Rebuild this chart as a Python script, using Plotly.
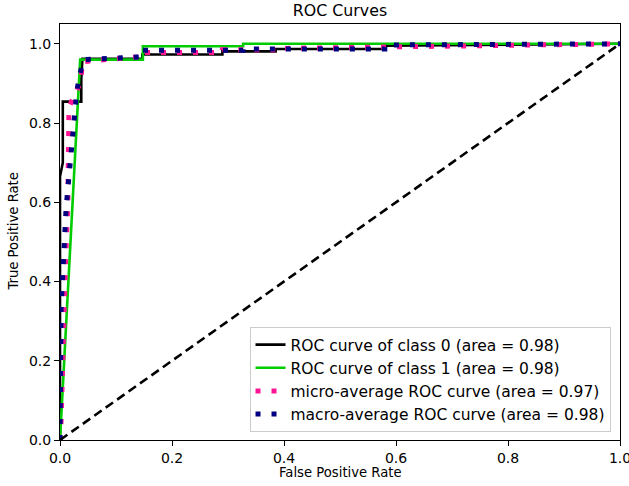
import plotly.graph_objects as go

# ROC curve data
fpr_class0 = [0.0, 0.0, 0.005, 0.005, 0.038, 0.038, 0.040, 0.147, 0.147, 0.290, 0.290, 0.385, 0.385, 0.580, 0.580, 1.0]
tpr_class0 = [0.0, 0.665, 0.700, 0.854, 0.854, 0.910, 0.962, 0.962, 0.973, 0.973, 0.981, 0.981, 0.987, 0.987, 0.995, 1.0]

fpr_class1 = [0.0, 0.036, 0.148, 0.148, 0.327, 0.327, 1.0]
tpr_class1 = [0.0, 0.960, 0.960, 0.994, 0.994, 1.0, 1.0]

fpr_micro = [0.0, 0.002, 0.010, 0.014, 0.016, 0.037, 0.040, 0.148, 0.148, 0.290, 0.290, 0.385, 0.385, 0.580, 1.0]
tpr_micro = [0.0, 0.050, 0.450, 0.600, 0.840, 0.904, 0.955, 0.968, 0.978, 0.978, 0.985, 0.985, 0.988, 0.992, 1.0]

fpr_macro = [0.0, 0.0, 0.002, 0.011, 0.026, 0.030, 0.035, 0.042, 0.148, 0.148, 0.327, 0.327, 0.580, 0.580, 1.0]
tpr_macro = [0.0, 0.300, 0.336, 0.588, 0.838, 0.880, 0.920, 0.960, 0.967, 0.984, 0.984, 0.987, 0.987, 0.997, 1.0]

names = [
    "ROC curve of class 0 (area = 0.98)",
    "ROC curve of class 1 (area = 0.98)",
    "micro-average ROC curve (area = 0.97)",
    "macro-average ROC curve (area = 0.98)",
]
diag_x = [0.0, 1.0]
diag_y = [0.0, 1.0]
x_ticks = [0.0, 0.2, 0.4, 0.6, 0.8, 1.0]
y_ticks = [0.0, 0.2, 0.4, 0.6, 0.8, 1.0]

FONT = "DejaVu Sans"
W, H = 629, 486
L, R, T, B = 59.5, 8.5, 24, 46

fig = go.Figure()
fig.add_trace(go.Scatter(x=fpr_class0, y=tpr_class0, mode="lines", name=names[0],
                         line=dict(color="black", width=2.6)))
fig.add_trace(go.Scatter(x=fpr_class1, y=tpr_class1, mode="lines", name=names[1],
                         line=dict(color="#00cc00", width=2.6)))
fig.add_trace(go.Scatter(x=fpr_micro, y=tpr_micro, mode="lines", name=names[2],
                         line=dict(color="deeppink", width=5, dash="5px,11px")))
fig.add_trace(go.Scatter(x=fpr_macro, y=tpr_macro, mode="lines", name=names[3],
                         line=dict(color="navy", width=5, dash="5px,11px")))
fig.add_trace(go.Scatter(x=diag_x, y=diag_y, mode="lines", showlegend=False,
                         line=dict(color="black", width=2.6, dash="9px,5px")))

pw = W - L - R
ph = H - T - B

fig.update_layout(
    width=W, height=H,
    margin=dict(l=L, r=R, t=T, b=B, pad=0, autoexpand=False),
    paper_bgcolor="white", plot_bgcolor="white",
    font=dict(family=FONT, size=14, color="black"),
    title=dict(text="ROC Curves", x=(L + W - R) / 2 / W, xanchor="center",
               yref="container", y=1 - 10 / H, yanchor="middle",
               font=dict(family=FONT, size=15.8, color="black")),
    showlegend=True,
    legend=dict(x=(611 - L) / pw, y=(T + ph - 432) / ph, xanchor="right", yanchor="bottom",
                bgcolor="rgba(255,255,255,0.85)", bordercolor="#cccccc", borderwidth=1,
                font=dict(family=FONT, size=15.5), itemwidth=30, tracegroupgap=0),
    annotations=[
        dict(text="False Positive Rate", xref="paper", yref="paper",
             x=0.5, y=-(472 - (T + ph)) / ph, xanchor="center", yanchor="middle",
             showarrow=False, font=dict(family=FONT, size=13.2)),
        dict(text="True Positive Rate", xref="paper", yref="paper",
             x=-(L - 12) / pw, y=0.5, xanchor="center", yanchor="middle", textangle=-90,
             showarrow=False, font=dict(family=FONT, size=13.2)),
    ],
)
fig.update_xaxes(range=[0, 1], tickvals=x_ticks, tickformat=".1f", automargin=False,
                 ticklabeloverflow="allow",
                 showgrid=False, zeroline=False, showline=True, linecolor="black",
                 linewidth=1, mirror=True, ticks="outside", ticklen=5, tickcolor="black",
                 tickfont=dict(size=14))
fig.update_yaxes(range=[0, 1.05], tickvals=y_ticks, tickformat=".1f", automargin=False,
                 ticklabeloverflow="allow",
                 showgrid=False, zeroline=False, showline=True, linecolor="black",
                 linewidth=1, mirror=True, ticks="outside", ticklen=5, tickcolor="black",
                 tickfont=dict(size=14))

fig.write_html("out.html", config={"displayModeBar": False},
               post_script="document.body.style.margin='0';document.body.style.overflow='hidden';")
